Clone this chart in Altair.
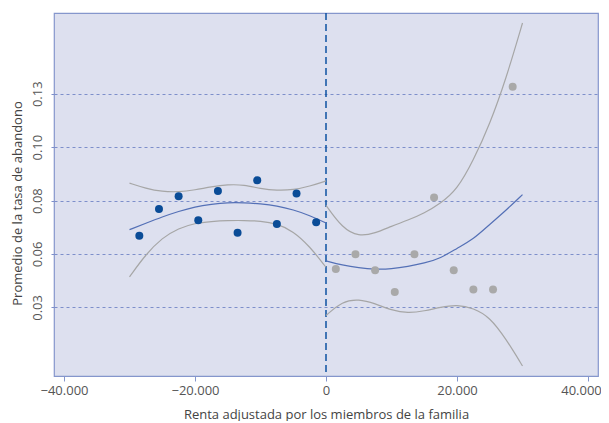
import altair as alt
import pandas as pd

# ---- data ----
left_x = [-28500, -25500, -22500, -19500, -16500, -13500, -10500, -7500, -4500, -1500]
left_y = [0.0636, 0.0761, 0.0820, 0.0708, 0.0845, 0.0649, 0.0895, 0.0691, 0.0833, 0.0699]
right_x = [1500, 4500, 7500, 10500, 13500, 16500, 19500, 22500, 25500, 28500]
right_y = [0.0480, 0.0549, 0.0474, 0.0372, 0.0549, 0.0815, 0.0474, 0.0384, 0.0384, 0.1333]

curve_left_x = [-30000, -27500, -25000, -22500, -20000, -17500, -15000, -12500, -10000, -7500, -5000, -2500, 0]
left_fit = [0.0664, 0.0694, 0.0724, 0.0750, 0.0771, 0.0783, 0.0791, 0.0790, 0.0785, 0.0776, 0.0757, 0.0731, 0.0695]
left_upper = [0.0882, 0.0857, 0.0842, 0.0840, 0.0850, 0.0865, 0.0875, 0.0874, 0.0856, 0.0847, 0.0850, 0.0867, 0.0892]
left_lower = [0.0443, 0.0549, 0.0626, 0.0671, 0.0694, 0.0702, 0.0707, 0.0707, 0.0705, 0.0692, 0.0657, 0.0586, 0.0488]

curve_right_x = [0, 2500, 5000, 7500, 10000, 12500, 15000, 17500, 20000, 22500, 25000, 27500, 30000]
right_fit = [0.0518, 0.0498, 0.0485, 0.0478, 0.0480, 0.0491, 0.0507, 0.0530, 0.0577, 0.0619, 0.0689, 0.0755, 0.0828]
right_upper = [0.0778, 0.0671, 0.0631, 0.0647, 0.0680, 0.0708, 0.0741, 0.0787, 0.0850, 0.0988, 0.1157, 0.1371, 0.1631]
right_lower = [0.0262, 0.0329, 0.0339, 0.0318, 0.0287, 0.0273, 0.0283, 0.0301, 0.0313, 0.0297, 0.0255, 0.0152, 0.0026]

x_ticks = [-40000, -20000, 0, 20000, 40000]
y_ticks = [0.03, 0.055, 0.08, 0.105, 0.13]
y_tick_labels = ["0.03", "0.06", "0.08", "0.10", "0.13"]

x_title = "Renta adjustada por los miembros de la familia"
y_title = "Promedio de la tasa de abandono"

# ---- build tables ----
pts_left = pd.DataFrame({"x": left_x, "y": left_y})
pts_right = pd.DataFrame({"x": right_x, "y": right_y})

rows = []
for name, xs, ys, kind in [
    ("lf", curve_left_x, left_fit, "fit"),
    ("lu", curve_left_x, left_upper, "band"),
    ("ll", curve_left_x, left_lower, "band"),
    ("rf", curve_right_x, right_fit, "fit"),
    ("ru", curve_right_x, right_upper, "band"),
    ("rl", curve_right_x, right_lower, "band"),
]:
    for xv, yv in zip(xs, ys):
        rows.append({"x": xv, "y": yv, "curve": name, "kind": kind})
curves = pd.DataFrame(rows)

label_expr = " : ".join(
    f"abs(datum.value - {v}) < 0.001 ? '{l}'" for v, l in zip(y_ticks, y_tick_labels)
) + " : ''"

FONT = "Open Sans"

x_scale = alt.Scale(domain=[-41527, 41527], nice=False, zero=False)
y_scale = alt.Scale(domain=[-0.0021, 0.1678], nice=False, zero=False)

x_axis = alt.Axis(
    title=x_title, values=x_ticks, grid=False, domain=False,
    labelExpr="replace(format(datum.value, ','), ',', '.')",
    labelOffset={"condition": {"test": f"datum.value == {x_ticks[-1]}", "value": -7}, "value": 0},
    tickColor="#8596cc", tickSize=5, labelPadding=3, titlePadding=11,
)
y_axis = alt.Axis(
    title=y_title, values=y_ticks, grid=True, gridDash=[3, 3], gridColor="#7d8fca",
    gridWidth=1, domain=False, labelExpr=label_expr, labelAngle=-90,
    labelAlign="center", labelBaseline="bottom",
    tickColor="#7d8fca", tickDash=[3, 3], tickSize=6, labelPadding=4, titlePadding=7,
    titleY=190,
)

band_layer = alt.Chart(curves[curves["kind"] == "band"]).mark_line(
    interpolate="basis", strokeWidth=1.2, color="#a6a6a6"
).encode(
    x=alt.X("x:Q", scale=x_scale, axis=x_axis),
    y=alt.Y("y:Q", scale=y_scale, axis=y_axis),
    detail="curve:N",
)

fit_layer = alt.Chart(curves[curves["kind"] == "fit"]).mark_line(
    interpolate="basis", strokeWidth=1.2, color="#5470b6"
).encode(
    x=alt.X("x:Q", scale=x_scale),
    y=alt.Y("y:Q", scale=y_scale),
    detail="curve:N",
)

left_points = alt.Chart(pts_left).mark_circle(size=64, opacity=1, color="#0a4c97").encode(
    x=alt.X("x:Q", scale=x_scale),
    y=alt.Y("y:Q", scale=y_scale),
)
right_points = alt.Chart(pts_right).mark_circle(size=64, opacity=1, color="#a9a9a9").encode(
    x=alt.X("x:Q", scale=x_scale),
    y=alt.Y("y:Q", scale=y_scale),
)

vline = alt.Chart(pd.DataFrame({"x": [0]})).mark_rule(
    color="#0d52a3", strokeDash=[7, 4], strokeWidth=1.5
).encode(x=alt.X("x:Q", scale=x_scale))

chart = alt.layer(vline, band_layer, fit_layer, left_points, right_points).properties(
    width=544, height=363,
    autosize=alt.AutoSizeParams(type="none"),
    padding={"left": 46, "top": 5, "right": 3, "bottom": 45},
).configure_view(
    fill="#dde0ef", stroke="#8596cc", strokeWidth=1.2,
).configure_axis(
    labelFont=FONT, titleFont=FONT, labelFontSize=13, titleFontSize=13,
    labelColor="#555555", titleColor="#444444", titleFontWeight="normal",
)

chart.save("out.html", embed_options={"renderer": "svg", "actions": False})
